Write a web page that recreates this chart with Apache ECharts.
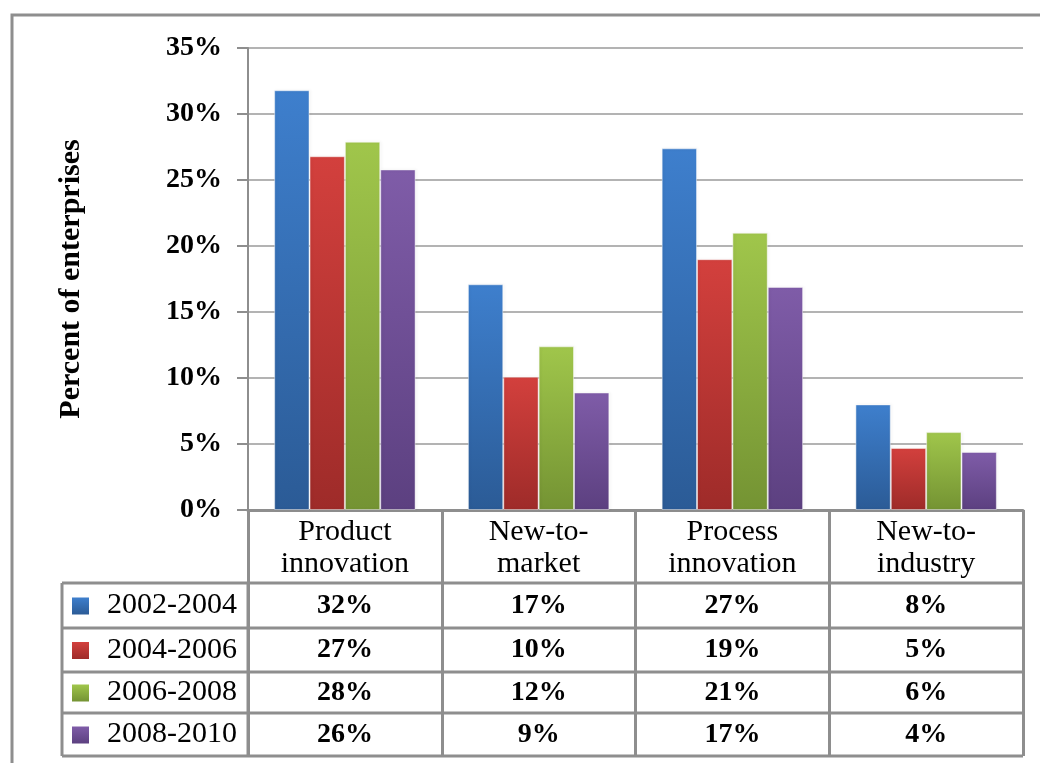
<!DOCTYPE html>
<html>
<head>
<meta charset="utf-8">
<script src="https://cdn.jsdelivr.net/npm/echarts@6/dist/echarts.min.js"></script>
<style>
  html, body { margin: 0; padding: 0; background: #fff; }
  #chart { width: 1040px; height: 763px; }
</style>
</head>
<body>
<div id="chart"></div>
<script>
  // categories along the x axis (also the table header)
  const categories = ['Product\ninnovation', 'New-to-\nmarket', 'Process\ninnovation', 'New-to-\nindustry'];
  const periods = ['2002-2004', '2004-2006', '2006-2008', '2008-2010'];

  // percent of enterprises
  const p2002_2004 = [31.8, 17.1, 27.4, 8.0];
  const p2004_2006 = [26.8, 10.1, 19.0, 4.7];
  const p2006_2008 = [27.9, 12.4, 21.0, 5.9];
  const p2008_2010 = [25.8, 8.9, 16.9, 4.4];
  const seriesValues = [p2002_2004, p2004_2006, p2006_2008, p2008_2010];

  const yTicks = [0, 5, 10, 15, 20, 25, 30, 35];

  // top / bottom gradient per period
  const colors = [
    ['#3e7fcd', '#2b5b96'],
    ['#d3403d', '#9e2b29'],
    ['#a0c64b', '#749333'],
    ['#7f5ca8', '#5c4080']
  ];

  const FONT = '"Liberation Serif", "Times New Roman", serif';
  const GRAY = '#8e8e8e';

  function grad(c) {
    return new echarts.graphic.LinearGradient(0, 0, 0, 1, [
      { offset: 0, color: c[0] },
      { offset: 1, color: c[1] }
    ]);
  }

  const chart = echarts.init(document.getElementById('chart'));

  chart.setOption({
    animation: false,
    backgroundColor: '#fff',
    grid: { left: 248, right: 17, top: 48, bottom: 253 },
    xAxis: {
      type: 'category',
      data: categories,
      axisLine: { show: true, lineStyle: { color: GRAY, width: 3 } },
      // ticks hang down and form the table's vertical lines
      axisTick: { show: true, alignWithLabel: false, length: 246, lineStyle: { color: GRAY, width: 3 } },
      axisLabel: {
        margin: 6,
        color: '#000',
        fontFamily: FONT,
        fontSize: 30,
        lineHeight: 32
      }
    },
    yAxis: {
      type: 'value',
      min: 0,
      max: 35,
      interval: 5,
      name: 'Percent of enterprises',
      nameLocation: 'middle',
      nameRotate: 90,
      nameGap: 162,
      nameTextStyle: { color: '#000', fontFamily: FONT, fontWeight: 'bold', fontSize: 30 },
      axisLine: { show: true, lineStyle: { color: GRAY, width: 2 } },
      axisTick: { show: true, length: 11, lineStyle: { color: GRAY, width: 2 } },
      splitLine: { show: true, lineStyle: { color: '#9a9a9a', width: 1.5 } },
      axisLabel: {
        margin: 26,
        color: '#000',
        fontFamily: FONT,
        fontWeight: 'bold',
        fontSize: 28,
        formatter: v => (yTicks.indexOf(v) >= 0 ? v + '%' : '')
      }
    },
    series: seriesValues.map((vals, i) => ({
      name: periods[i],
      type: 'bar',
      data: vals,
      barGap: '0%',
      barCategoryGap: '27%',
      itemStyle: {
        color: grad(colors[i]),
        borderColor: 'rgba(255,255,255,0.25)',
        borderWidth: 1,
        shadowColor: 'rgba(0,0,0,0.25)',
        shadowBlur: 3,
        shadowOffsetX: 1
      }
    }))
  });

  // data table under the plot
  const rowLines = [583, 628, 672, 713, 756];
  const tableLeft = 62;
  const centers = categories.map((c, i) => chart.convertToPixel({ xAxisIndex: 0 }, i));
  const band = centers[1] - centers[0];
  const colLeft = centers[0] - band / 2;
  const tableRight = centers[centers.length - 1] + band / 2;
  const graphics = [];

  // outer chart border
  graphics.push({
    type: 'rect',
    shape: { x: 12, y: 15, width: 1100, height: 900 },
    style: { fill: null, stroke: GRAY, lineWidth: 3 },
    z: 10
  });

  rowLines.forEach(y => {
    graphics.push({
      type: 'line',
      shape: { x1: tableLeft, y1: y, x2: tableRight, y2: y },
      style: { stroke: GRAY, lineWidth: 3 },
      z: 10
    });
  });
  [tableLeft, colLeft].forEach(x => {
    graphics.push({
      type: 'line',
      shape: { x1: x, y1: rowLines[0], x2: x, y2: rowLines[rowLines.length - 1] },
      style: { stroke: GRAY, lineWidth: 3 },
      z: 10
    });
  });

  periods.forEach((p, r) => {
    const cy = (rowLines[r] + rowLines[r + 1]) / 2;
    graphics.push({
      type: 'rect',
      shape: { x: 72, y: cy - 8, width: 17, height: 17 },
      style: { fill: grad(colors[r]) },
      z: 11
    });
    graphics.push({
      type: 'text',
      x: 107,
      y: cy,
      style: {
        text: p, fill: '#000', font: '30px ' + FONT,
        textAlign: 'left', textVerticalAlign: 'middle'
      },
      z: 11
    });
    seriesValues[r].forEach((v, c) => {
      graphics.push({
        type: 'text',
        x: centers[c],
        y: cy,
        style: {
          text: Math.round(v) + '%', fill: '#000', font: 'bold 28px ' + FONT,
          textAlign: 'center', textVerticalAlign: 'middle'
        },
        z: 11
      });
    });
  });

  chart.setOption({ graphic: graphics });
</script>
</body>
</html>
